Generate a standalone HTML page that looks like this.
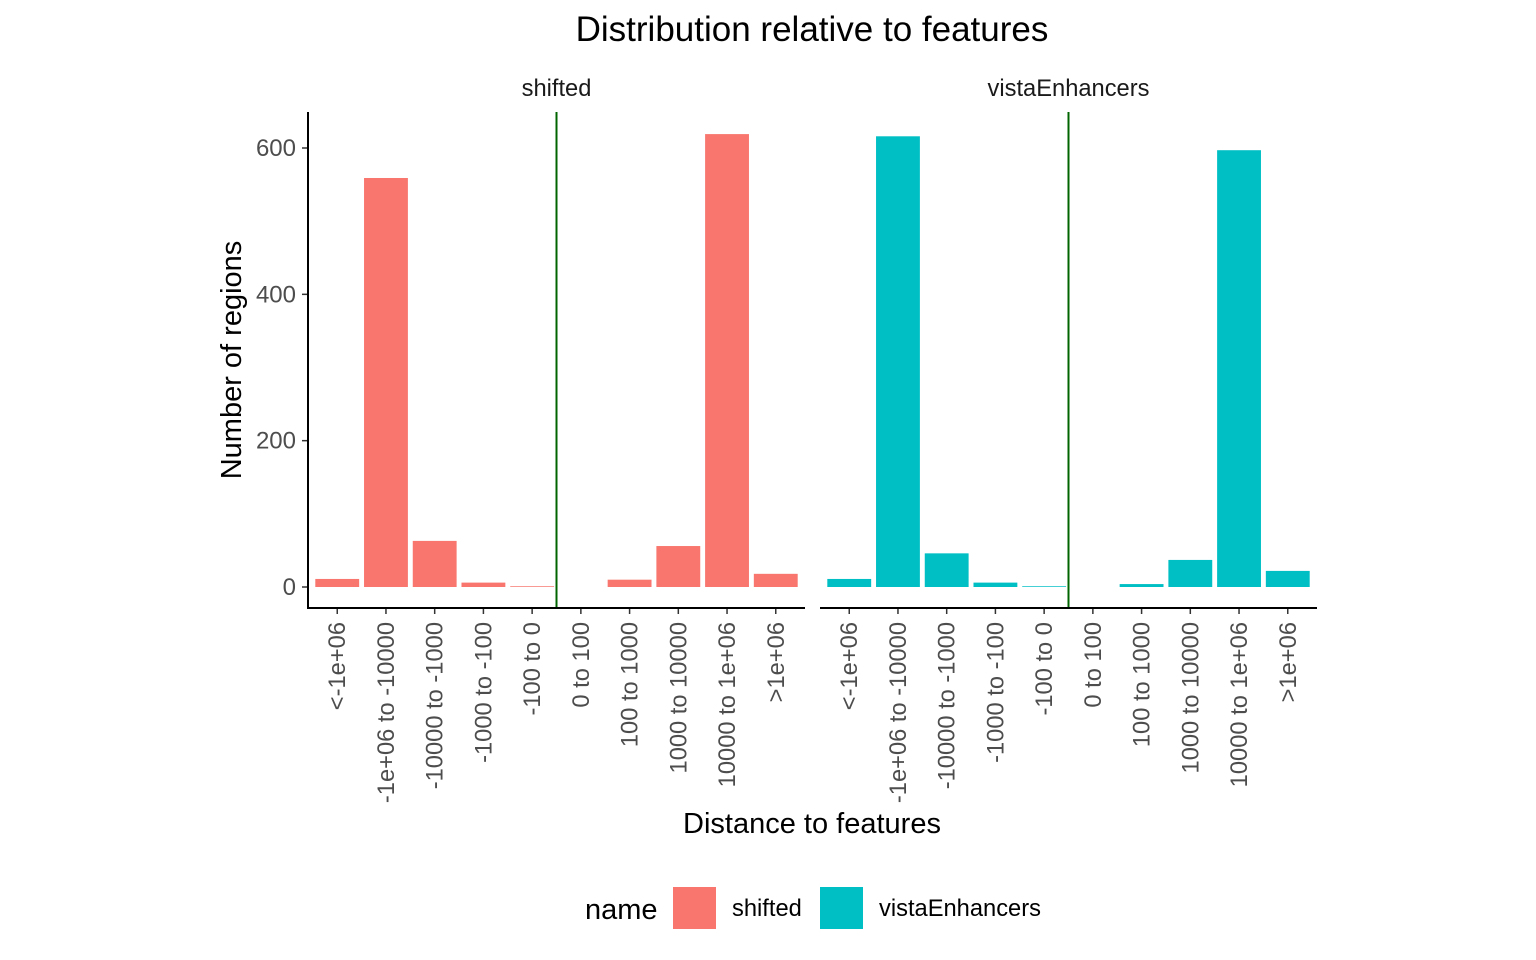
<!DOCTYPE html>
<html><head><meta charset="utf-8"><style>
html,body{margin:0;padding:0;background:#fff;}
svg{display:block;font-family:"Liberation Sans",sans-serif;}
</style></head><body>
<svg id="chart" width="1536" height="960" xmlns="http://www.w3.org/2000/svg">
<text x="812" y="41" font-size="35" text-anchor="middle" fill="#000">Distribution relative to features</text>
<text x="812" y="833" font-size="29" text-anchor="middle" fill="#000">Distance to features</text>
<text transform="translate(241,360) rotate(-90)" font-size="29" text-anchor="middle" fill="#000">Number of regions</text>
<g id="plot"></g>
<g>
<text x="585" y="919" font-size="29" fill="#000">name</text>
<rect x="673" y="887" width="43" height="42" fill="#F8766D"/>
<text x="732" y="916" font-size="23.7" fill="#000">shifted</text>
<rect x="820" y="887" width="43" height="42" fill="#00BFC4"/>
<text x="879" y="916" font-size="23.7" fill="#000">vistaEnhancers</text>
</g>
</svg>
<script>
const categories = ["<-1e+06","-1e+06 to -10000","-10000 to -1000","-1000 to -100","-100 to 0","0 to 100","100 to 1000","1000 to 10000","10000 to 1e+06",">1e+06"];
const panels = ["shifted","vistaEnhancers"];
const shiftedValues = [11,559,63,6,1,0,10,56,619,18];
const vistaValues = [11,616,46,6,1,0,4,37,597,22];
const yTicks = [0,200,400,600];
const colors = ["#F8766D","#00BFC4"];
const NS = "http://www.w3.org/2000/svg";
const g = document.getElementById("plot");
const panelX = [308, 820], panelW = 497;
const y0 = 587, pxPerUnit = 439/600;
const yScale = v => y0 - v*pxPerUnit;
const step = panelW/(categories.length + 0.2);
const xScale = (p,i) => panelX[p] + (0.6 + i)*step;
function mk(tag, attrs){const e=document.createElementNS(NS,tag);for(const k in attrs)e.setAttribute(k,attrs[k]);g.appendChild(e);return e;}
const series=[shiftedValues,vistaValues];
panels.forEach((name,p)=>{
  const strip = mk("text",{x:panelX[p]+panelW/2,y:96,"font-size":23.7,"text-anchor":"middle",fill:"#1a1a1a"});
  strip.textContent=name;
  
  
  series[p].forEach((v,i)=>{
    const cx=xScale(p,i), bw=step*0.9;
    const r=mk("rect",{x:cx-bw/2,y:yScale(v),width:bw,height:Math.max(0,y0-yScale(v)),fill:colors[p]});
    
    
  });
  const vl=mk("line",{x1:panelX[p]+5.1*step,x2:panelX[p]+5.1*step,y1:112,y2:608,stroke:"#006400","stroke-width":2});
  
  
  const ax=mk("line",{x1:panelX[p],x2:panelX[p]+panelW,y1:608,y2:608,stroke:"#000","stroke-width":2});
  
  
  categories.forEach((c,i)=>{
    const cx=xScale(p,i);
    const t=mk("line",{x1:cx,x2:cx,y1:609,y2:614,stroke:"#333","stroke-width":1.5});
    
    
    const l=mk("text",{transform:`translate(${cx+8},622) rotate(-90)`,"font-size":23.7,"text-anchor":"end",fill:"#4d4d4d"});
    l.textContent=c;
    
    
  });
});
const ya=mk("line",{x1:308,x2:308,y1:112,y2:609,stroke:"#000","stroke-width":2});


yTicks.forEach(v=>{
  const t=mk("line",{x1:302,x2:307,y1:yScale(v),y2:yScale(v),stroke:"#333","stroke-width":1.5});
  
  
  const l=mk("text",{x:296,y:yScale(v)+8,"font-size":24,"text-anchor":"end",fill:"#4d4d4d"});
  l.textContent=v;
  
  
});
</script>
</body></html>
